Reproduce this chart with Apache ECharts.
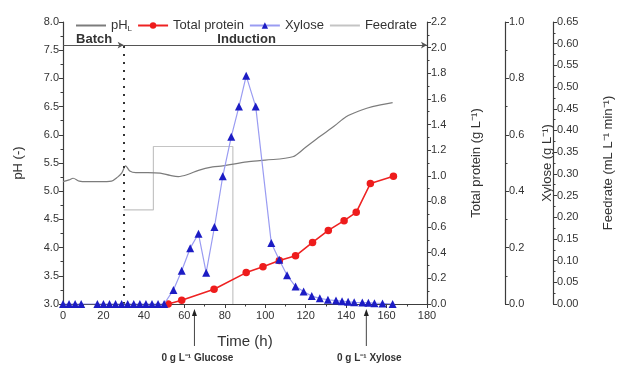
<!DOCTYPE html>
<html>
<head>
<meta charset="utf-8">
<script src="https://cdn.jsdelivr.net/npm/echarts@6/dist/echarts.min.js"></script>
<style>
html,body{margin:0;padding:0;background:#fff;}
#chart{width:619px;height:366px;}
</style>
</head>
<body>
<div id="chart"></div>
<script>
// ---- data ----
const phTime  = [0, 3, 5, 8, 12, 18, 24, 27, 29, 31, 33, 36, 42, 48, 53, 57, 62, 67, 74, 79, 91, 100, 113.6, 120, 127, 134, 140, 147, 153, 163];
const phValue = [5.17, 5.2, 5.23, 5.18, 5.17, 5.17, 5.18, 5.25, 5.32, 5.45, 5.36, 5.33, 5.33, 5.32, 5.28, 5.26, 5.3, 5.37, 5.43, 5.45, 5.52, 5.55, 5.61, 5.78, 5.97, 6.15, 6.32, 6.43, 6.5, 6.57];

const proteinTime  = [52, 58.7, 74.7, 90.6, 98.9, 107, 115, 123.4, 131.2, 139, 145, 152, 163.4];
const proteinValue = [0, 0.03, 0.115, 0.245, 0.29, 0.34, 0.376, 0.48, 0.574, 0.65, 0.715, 0.94, 0.997];

const xyloseTime  = [0, 3, 6, 9, 17, 20, 23, 26, 29, 32, 35, 38, 41, 44, 47, 50, 54.6, 58.7, 62.9, 67, 70.8, 74.9, 79, 83.2, 87, 90.6, 95.3, 103, 106.9, 110.8, 115, 119, 123, 127, 131, 135, 138, 141, 144, 148, 151, 154, 158, 163];
const xyloseValue = [0, 0, 0, 0, 0, 0, 0, 0, 0, 0, 0, 0, 0, 0, 0, 0, 0.05, 0.118, 0.198, 0.249, 0.111, 0.273, 0.453, 0.593, 0.70, 0.809, 0.70, 0.216, 0.157, 0.102, 0.062, 0.044, 0.028, 0.02, 0.015, 0.012, 0.01, 0.008, 0.006, 0.005, 0.004, 0.003, 0.002, 0];

const feedTime  = [30, 44.7, 44.7, 84, 84];
const feedValue = [0.217, 0.217, 0.363, 0.363, 0];

const xTicks = {min: 0, max: 180, interval: 20};
const phTicks = {min: 3, max: 8, interval: 0.5};
const proteinTicks = {min: 0, max: 2.2, interval: 0.2};
const xyloseTicks = {min: 0, max: 1, interval: 0.2};
const feedTicks = {min: 0, max: 0.65, interval: 0.05};

const batchEnd = 30;       // h
const phaseLineLevel = 7.59; // on pH axis
const glucoseZero = 65;    // h
const xyloseZero = 150;    // h

// ---- chart ----
const zip = (a, b) => a.map((t, i) => [t, b[i]]);
const FONT = 'Liberation Sans, Arial, sans-serif';
const AX = '#3c3c3c';
const TXT = '#333';

function yAxisBase(t, pos, offset, name, gap, dec) {
  return {
    type: 'value', position: pos, offset: offset,
    min: t.min, max: t.max, interval: t.interval,
    name: name, nameLocation: 'middle', nameGap: gap, nameRotate: 90,
    nameTextStyle: {fontFamily: FONT, fontSize: 13, color: TXT},
    axisLine: {show: true, lineStyle: {color: AX, width: 1.2}},
    axisTick: {show: true, inside: false, length: 4, lineStyle: {color: AX}},
    minorTick: {show: true, splitNumber: 2, length: 2.5, lineStyle: {color: AX}},
    splitLine: {show: false},
    axisLabel: {fontFamily: FONT, fontSize: 11, color: TXT, margin: 4,
      formatter: v => v.toFixed(dec)}
  };
}

const chart = echarts.init(document.getElementById('chart'), null, {renderer: 'canvas'});
const option = {
  animation: false,
  backgroundColor: '#fff',
  textStyle: {fontFamily: FONT},
  grid: {left: 63, right: 192, top: 22, bottom: 62, containLabel: false, outerBoundsMode: 'none'},
  legend: {
    left: 75, top: 19, padding: 0, itemWidth: 30, itemHeight: 8, itemGap: 5,
    textStyle: {fontFamily: FONT, fontSize: 13, color: TXT,
      rich: {a: {fontSize: 13, color: TXT}, s: {fontSize: 8, color: TXT, verticalAlign: 'bottom', padding: [6, 0, 0, 0]}}},
    formatter: n => n === 'pH' ? '{a|pH}{s|L}' : n,
    data: [
      {name: 'pH', itemStyle: {opacity: 0}},
      'Total protein',
      'Xylose',
      {name: 'Feedrate', itemStyle: {opacity: 0}}
    ]
  },
  xAxis: {
    type: 'value', min: xTicks.min, max: xTicks.max, interval: xTicks.interval,
    name: 'Time (h)', nameLocation: 'middle', nameGap: 30,
    nameTextStyle: {fontFamily: FONT, fontSize: 15, color: TXT},
    axisLine: {show: true, lineStyle: {color: AX, width: 1.2}},
    axisTick: {show: true, inside: false, length: 4, lineStyle: {color: AX}},
    minorTick: {show: true, splitNumber: 2, length: 2.5, lineStyle: {color: AX}},
    splitLine: {show: false},
    axisLabel: {fontFamily: FONT, fontSize: 11, color: TXT, margin: 6}
  },
  yAxis: [
    yAxisBase(phTicks, 'left', 0, 'pH (-)', 38, 1),
    yAxisBase(proteinTicks, 'right', 0, 'Total protein (g L\u207B\u00B9)', 43, 1),
    yAxisBase(xyloseTicks, 'right', 78, 'Xylose (g L\u207B\u00B9)', 36, 1),
    yAxisBase(feedTicks, 'right', 126, 'Feedrate (mL L\u207B\u00B9 min\u207B\u00B9)', 49, 2)
  ],
  series: [
    {
      name: 'pH', type: 'line', yAxisIndex: 0, data: zip(phTime, phValue),
      showSymbol: false, symbol: 'none', smooth: 0.3, z: 3,
      lineStyle: {color: '#7c7c7c', width: 1.2}, itemStyle: {color: '#7c7c7c'},
      markLine: {
        silent: true, animation: false, label: {show: false},
        data: [
          [{coord: [batchEnd, phTicks.min], symbol: 'none', lineStyle: {color: '#333', width: 2, type: [2, 6]}},
           {coord: [batchEnd, phaseLineLevel], symbol: 'none'}],
          [{coord: [xTicks.min, phaseLineLevel], symbol: 'none', lineStyle: {color: '#555', width: 1, type: 'solid'}},
           {coord: [batchEnd, phaseLineLevel], symbol: 'arrow', symbolSize: [5, 6]}],
          [{coord: [batchEnd, phaseLineLevel], symbol: 'none', lineStyle: {color: '#555', width: 1, type: 'solid'}},
           {coord: [xTicks.max, phaseLineLevel], symbol: 'arrow', symbolSize: [5, 6]}]
        ]
      }
    },
    {
      name: 'Total protein', type: 'line', yAxisIndex: 1, data: zip(proteinTime, proteinValue),
      symbol: 'circle', symbolSize: 7.5, z: 4,
      lineStyle: {color: '#ee2222', width: 1.6}, itemStyle: {color: '#ee1c1c'}
    },
    {
      name: 'Xylose', type: 'line', yAxisIndex: 2, data: zip(xyloseTime, xyloseValue),
      symbol: 'triangle', symbolSize: 8, z: 5,
      lineStyle: {color: '#9a9cf2', width: 1.2}, itemStyle: {color: '#1c1cc4'}
    },
    {
      name: 'Feedrate', type: 'line', yAxisIndex: 3, data: zip(feedTime, feedValue),
      symbol: 'none', showSymbol: false, z: 2,
      lineStyle: {color: '#c4c4c4', width: 1.2}, itemStyle: {color: '#c4c4c4'}
    }
  ]
};
chart.setOption(option);

// annotations positioned through the axes
function px(t, v) { return chart.convertToPixel({xAxisIndex: 0, yAxisIndex: 0}, [t, v]); }
function arrowUp(t, label) {
  const p = px(t, phTicks.min);
  return [
    {type: 'line', shape: {x1: p[0], y1: p[1] + 42, x2: p[0], y2: p[1] + 10}, style: {stroke: '#444', lineWidth: 1}, silent: true},
    {type: 'polygon', shape: {points: [[p[0] - 2.5, p[1] + 12], [p[0] + 2.5, p[1] + 12], [p[0], p[1] + 5]]}, style: {fill: '#222'}, silent: true},
    {type: 'text', x: p[0] + 3, y: p[1] + 54, style: {text: label, fill: '#333', font: 'bold 10px ' + FONT, align: 'center', verticalAlign: 'middle'}, silent: true}
  ];
}
const pb = px(batchEnd / 2 + 0.4, phaseLineLevel);
const pi = px(90.8, phaseLineLevel);
chart.setOption({
  graphic: [
    ...arrowUp(glucoseZero, '0 g L\u207B\u00B9 Glucose'),
    ...arrowUp(xyloseZero, '0 g L\u207B\u00B9 Xylose'),
    {type: 'text', x: pb[0], y: pb[1] + 1, style: {text: 'Batch', fill: '#333', font: 'bold 13px ' + FONT, align: 'center', verticalAlign: 'bottom'}, silent: true},
    {type: 'text', x: pi[0], y: pi[1] + 1, style: {text: 'Induction', fill: '#333', font: 'bold 13px ' + FONT, align: 'center', verticalAlign: 'bottom'}, silent: true}
  ]
});
</script>
</body>
</html>
